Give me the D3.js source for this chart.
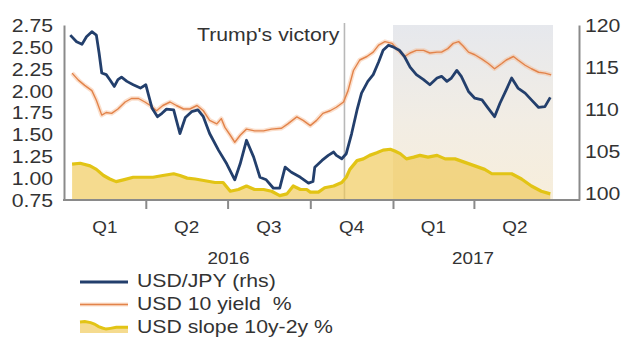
<!DOCTYPE html>
<html>
<head>
<meta charset="utf-8">
<script src="https://cdn.jsdelivr.net/npm/d3@7"></script>
<style>
  body { margin: 0; background: #fff; }
  svg { display: block; }
  text { font-family: "Liberation Sans", Arial, sans-serif; fill: #333; }
</style>
</head>
<body>
<svg id="chart" width="623" height="338"></svg>
<script>
// USD/JPY spot (right-hand scale)
const usdJpy = [
  ["2016-01-08",118.8],["2016-01-15",118.0],["2016-01-21",117.7],["2016-01-26",118.6],["2016-02-01",119.2],
  ["2016-02-06",118.8],["2016-02-09",116.7],["2016-02-12",114.3],["2016-02-17",114.1],["2016-02-21",113.5],
  ["2016-02-26",112.7],["2016-03-01",113.5],["2016-03-05",113.8],["2016-03-11",113.3],["2016-03-18",112.9],
  ["2016-03-26",112.5],["2016-04-01",112.9],["2016-04-04",111.7],["2016-04-08",110.1],["2016-04-14",109.1],
  ["2016-04-19",109.5],["2016-04-24",110.0],["2016-05-02",109.9],["2016-05-05",108.7],["2016-05-09",107.1],
  ["2016-05-15",109.0],["2016-05-22",109.7],["2016-05-29",109.9],["2016-06-04",109.1],["2016-06-11",107.1],
  ["2016-06-21",105.1],["2016-06-30",103.5],["2016-07-09",101.6],["2016-07-15",103.5],["2016-07-22",106.3],
  ["2016-07-30",104.3],["2016-08-06",101.9],["2016-08-13",101.6],["2016-08-21",100.6],["2016-08-28",100.6],
  ["2016-09-03",103.1],["2016-09-10",102.5],["2016-09-20",101.9],["2016-09-29",101.2],["2016-10-04",101.4],
  ["2016-10-06",103.1],["2016-10-14",103.9],["2016-10-21",104.5],["2016-10-27",104.9],["2016-10-30",104.5],
  ["2016-11-05",104.1],["2016-11-10",104.7],["2016-11-16",107.1],["2016-11-22",109.9],["2016-11-27",111.9],
  ["2016-12-04",113.3],["2016-12-10",114.1],["2016-12-16",115.6],["2016-12-21",117.0],["2016-12-27",117.6],
  ["2017-01-01",117.4],["2017-01-08",117.0],["2017-01-14",116.2],["2017-01-20",115.0],["2017-01-27",114.1],
  ["2017-02-04",113.5],["2017-02-11",112.9],["2017-02-19",113.7],["2017-02-24",113.9],["2017-03-02",113.3],
  ["2017-03-07",113.7],["2017-03-13",114.6],["2017-03-18",113.9],["2017-03-26",112.1],["2017-04-02",111.3],
  ["2017-04-10",111.1],["2017-04-17",110.1],["2017-04-24",109.1],["2017-04-30",110.7],["2017-05-07",112.3],
  ["2017-05-13",113.7],["2017-05-20",112.5],["2017-05-28",111.9],["2017-06-04",111.1],["2017-06-12",110.2],
  ["2017-06-19",110.3],["2017-06-25",111.4]
];

// US 10-year Treasury yield, %
const usd10y = [
  ["2016-01-10",2.20],["2016-01-17",2.12],["2016-01-24",2.06],["2016-02-01",2.00],["2016-02-06",1.89],
  ["2016-02-12",1.72],["2016-02-17",1.75],["2016-02-23",1.74],["2016-03-01",1.79],["2016-03-09",1.87],
  ["2016-03-16",1.91],["2016-03-24",1.91],["2016-03-31",1.87],["2016-04-06",1.83],["2016-04-13",1.77],
  ["2016-04-20",1.83],["2016-04-28",1.87],["2016-05-05",1.83],["2016-05-13",1.79],["2016-05-20",1.79],
  ["2016-05-28",1.83],["2016-06-04",1.77],["2016-06-11",1.66],["2016-06-19",1.62],["2016-06-24",1.68],
  ["2016-06-28",1.58],["2016-07-04",1.49],["2016-07-09",1.41],["2016-07-15",1.49],["2016-07-22",1.56],
  ["2016-07-31",1.54],["2016-08-10",1.54],["2016-08-19",1.56],["2016-08-30",1.57],["2016-09-06",1.62],
  ["2016-09-16",1.70],["2016-09-23",1.66],["2016-10-01",1.60],["2016-10-08",1.66],["2016-10-15",1.74],
  ["2016-10-23",1.77],["2016-10-30",1.81],["2016-11-07",1.87],["2016-11-12",2.00],["2016-11-18",2.23],
  ["2016-11-25",2.35],["2016-12-03",2.39],["2016-12-10",2.44],["2016-12-16",2.52],["2016-12-23",2.56],
  ["2016-12-31",2.54],["2017-01-07",2.46],["2017-01-14",2.39],["2017-01-20",2.43],["2017-01-27",2.46],
  ["2017-02-04",2.46],["2017-02-11",2.43],["2017-02-19",2.44],["2017-02-24",2.44],["2017-03-03",2.48],
  ["2017-03-09",2.54],["2017-03-15",2.56],["2017-03-20",2.51],["2017-03-26",2.44],["2017-04-02",2.41],
  ["2017-04-10",2.36],["2017-04-17",2.31],["2017-04-24",2.25],["2017-05-02",2.31],["2017-05-07",2.35],
  ["2017-05-15",2.39],["2017-05-20",2.35],["2017-05-28",2.29],["2017-06-04",2.25],["2017-06-12",2.21],
  ["2017-06-19",2.20],["2017-06-26",2.18]
];

// US curve slope, 10y minus 2y, %
const usdSlope = [
  ["2016-01-10",1.16],["2016-01-19",1.17],["2016-01-30",1.14],["2016-02-06",1.10],["2016-02-14",1.03],
  ["2016-02-21",0.99],["2016-02-28",0.96],["2016-03-07",0.98],["2016-03-18",1.01],["2016-03-29",1.01],
  ["2016-04-09",1.01],["2016-04-20",1.03],["2016-05-02",1.05],["2016-05-09",1.03],["2016-05-17",1.00],
  ["2016-05-26",0.99],["2016-06-06",0.97],["2016-06-17",0.95],["2016-06-26",0.95],["2016-07-04",0.85],
  ["2016-07-13",0.87],["2016-07-22",0.91],["2016-07-31",0.87],["2016-08-10",0.87],["2016-08-19",0.85],
  ["2016-08-28",0.80],["2016-09-05",0.82],["2016-09-12",0.91],["2016-09-20",0.87],["2016-09-27",0.87],
  ["2016-10-01",0.84],["2016-10-10",0.84],["2016-10-17",0.89],["2016-10-27",0.91],["2016-11-05",0.95],
  ["2016-11-10",1.01],["2016-11-14",1.10],["2016-11-22",1.20],["2016-11-29",1.22],["2016-12-06",1.26],
  ["2016-12-14",1.29],["2016-12-21",1.32],["2016-12-29",1.33],["2017-01-03",1.31],["2017-01-09",1.28],
  ["2017-01-16",1.22],["2017-01-24",1.24],["2017-01-31",1.26],["2017-02-09",1.24],["2017-02-19",1.26],
  ["2017-02-28",1.22],["2017-03-11",1.22],["2017-03-22",1.18],["2017-04-02",1.14],["2017-04-13",1.10],
  ["2017-04-21",1.05],["2017-05-02",1.05],["2017-05-13",1.05],["2017-05-24",0.99],["2017-06-04",0.91],
  ["2017-06-15",0.85],["2017-06-25",0.82]
];

const leftTicks = [0.75, 1.00, 1.25, 1.50, 1.75, 2.00, 2.25, 2.50, 2.75];
const rightTicks = [100, 105, 110, 115, 120];
const quarterLabels = ["Q1", "Q2", "Q3", "Q4", "Q1", "Q2"];
const quarterStarts = ["2016-01-01", "2016-04-01", "2016-07-01", "2016-10-01", "2017-01-01", "2017-04-01", "2017-07-01"];
const yearLabels = ["2016", "2017"];
const yearStarts = ["2016-01-01", "2017-01-01"];
const periodStart = "2016-01-01", periodEnd = "2017-06-28";
const highlightStart = "2017-01-01";
const eventDate = "2016-11-08", eventLabel = "Trump's victory";
const legendLabels = ["USD/JPY (rhs)", "USD 10 yield  %", "USD slope 10y-2y %"];

const parse = d3.timeParse("%Y-%m-%d");
const svg = d3.select("#chart");
const W = 623, H = 338;

const colors = { jpy: "#233f6c", yld: "#e2834a", yldHalo: "#f6b88f", slope: "#e2c415", slopeFill: "#f0c955", axis: "#8a8a8a" };
const STRETCH = 1.18;   // glyphs in this style are set slightly wide

// layout
const plotLeft = 64, rightAxisX = 579, plotTop = 25, plotBottom = 200;

const x = d3.scaleTime().domain([parse(periodStart), parse(periodEnd)]).range([plotLeft, 553]);
const yL = d3.scaleLinear().domain([0.75, 2.75]).range([plotBottom, plotTop]);
const yR = d3.scaleLinear().domain([99.2, 120]).range([plotBottom, plotTop]);

svg.append("rect").attr("width", W).attr("height", H).attr("fill", "#fff");

// highlighted 2017 period
const defs = svg.append("defs");
const grad = defs.append("linearGradient").attr("id", "shade").attr("x1", 0).attr("y1", 0).attr("x2", 0).attr("y2", 1);
grad.append("stop").attr("offset", "0%").attr("stop-color", "#e6e8ed");
grad.append("stop").attr("offset", "55%").attr("stop-color", "#f2ede4");
grad.append("stop").attr("offset", "100%").attr("stop-color", "#f7eedb");
svg.append("rect")
  .attr("x", x(parse(highlightStart)))
  .attr("y", plotTop)
  .attr("width", x(parse(periodEnd)) - x(parse(highlightStart)))
  .attr("height", plotBottom - plotTop)
  .attr("fill", "url(#shade)");

// event marker
const ex = x(parse(eventDate));
svg.append("line").attr("x1", ex).attr("x2", ex).attr("y1", plotTop - 2).attr("y2", plotBottom)
  .attr("stroke", "#b8b8b8").attr("stroke-width", 1.6);

function stretchedText(g, tx, ty, txt, anchor, size) {
  return g.append("text")
    .attr("transform", `translate(${tx},${ty}) scale(${STRETCH},1)`)
    .attr("text-anchor", anchor)
    .attr("font-size", size)
    .style("white-space", "pre")
    .text(txt);
}
stretchedText(svg, ex - 5, 40.5, eventLabel, "end", 18);

// slope area + line
const slopeData = usdSlope.map(d => ({ date: parse(d[0]), v: d[1] }));
svg.append("path").datum(slopeData)
  .attr("d", d3.area().x(d => x(d.date)).y0(yL(0.75)).y1(d => yL(d.v)))
  .attr("fill", colors.slopeFill).attr("fill-opacity", 0.66);
svg.append("path").datum(slopeData)
  .attr("d", d3.line().x(d => x(d.date)).y(d => yL(d.v)))
  .attr("fill", "none").attr("stroke", colors.slope).attr("stroke-width", 3.2)
  .attr("stroke-linejoin", "round");

// 10y yield
const yldData = usd10y.map(d => ({ date: parse(d[0]), v: d[1] }));
const yldLine = d3.line().x(d => x(d.date)).y(d => yL(d.v));
svg.append("path").datum(yldData).attr("d", yldLine)
  .attr("fill", "none").attr("stroke", colors.yldHalo).attr("stroke-opacity", 0.45).attr("stroke-width", 4.5)
  .attr("stroke-linejoin", "round");
svg.append("path").datum(yldData).attr("d", yldLine)
  .attr("fill", "none").attr("stroke", colors.yld).attr("stroke-width", 1.4).attr("stroke-linejoin", "round");

// USD/JPY
const jpyData = usdJpy.map(d => ({ date: parse(d[0]), v: d[1] }));
svg.append("path").datum(jpyData)
  .attr("d", d3.line().x(d => x(d.date)).y(d => yR(d.v)))
  .attr("fill", "none").attr("stroke", colors.jpy).attr("stroke-width", 2.8).attr("stroke-linejoin", "round");

// axes
function styleAxis(g, dx) {
  g.select(".domain").attr("stroke", colors.axis).attr("stroke-width", 2);
  g.selectAll(".tick text")
    .attr("x", null).attr("dy", "0.36em")
    .attr("fill", "#333")
    .attr("font-size", 18)
    .attr("font-family", "Liberation Sans, Arial, sans-serif")
    .attr("transform", `translate(${dx},0) scale(${STRETCH},1)`);
}
const gL = svg.append("g").attr("transform", `translate(${plotLeft},0)`)
  .call(d3.axisLeft(yL).tickValues(leftTicks).tickFormat(d3.format(".2f")).tickSize(0).tickSizeOuter(0));
styleAxis(gL, -11);
const gR = svg.append("g").attr("transform", `translate(${rightAxisX},0)`)
  .call(d3.axisRight(yR).tickValues(rightTicks).tickFormat(d3.format("d")).tickSize(0).tickSizeOuter(0));
styleAxis(gR, 6);

const gB = svg.append("g").attr("transform", `translate(0,${plotBottom})`)
  .call(d3.axisBottom(x).tickValues(quarterStarts.slice(1, 6).map(parse)).tickFormat(() => "").tickSize(9).tickSizeOuter(0));
gB.select(".domain").remove();
gB.selectAll(".tick line").attr("stroke", colors.axis).attr("stroke-width", 2);
svg.append("line").attr("x1", plotLeft - 1).attr("x2", rightAxisX + 1).attr("y1", plotBottom).attr("y2", plotBottom)
  .attr("stroke", colors.axis).attr("stroke-width", 2);

// quarter and year labels
quarterLabels.forEach((q, i) => {
  const cx = (x(parse(quarterStarts[i])) + x(parse(quarterStarts[i + 1]))) / 2;
  stretchedText(svg, cx, 233, q, "middle", 16);
});
yearLabels.forEach((yr, i) => {
  const a = x(parse(yearStarts[i]));
  const b = i + 1 < yearStarts.length ? x(parse(yearStarts[i + 1])) : x(parse(periodEnd));
  stretchedText(svg, (a + b) / 2, 264, yr, "middle", 16);
});

// legend
const legX0 = 80, legX1 = 128, legText = 137;
const rows = [280.5, 303.5, 326.5];
svg.append("line").attr("x1", legX0).attr("x2", legX1).attr("y1", rows[0] + 1.5).attr("y2", rows[0] + 1.5)
  .attr("stroke", colors.jpy).attr("stroke-width", 3);
svg.append("line").attr("x1", legX0).attr("x2", legX1).attr("y1", rows[1] + 1).attr("y2", rows[1] + 1)
  .attr("stroke", colors.yldHalo).attr("stroke-opacity", 0.45).attr("stroke-width", 4);
svg.append("line").attr("x1", legX0).attr("x2", legX1).attr("y1", rows[1] + 1).attr("y2", rows[1] + 1)
  .attr("stroke", colors.yld).attr("stroke-width", 1.5);
// slope key: a miniature of the first months of the slope series
const mini = slopeData.slice(0, 11);
const mx = d3.scaleTime().domain(d3.extent(mini, d => d.date)).range([legX0, legX1]);
const my = d3.scaleLinear().domain([0.85, 1.2]).range([rows[2] + 6.5, rows[2] - 6]);
svg.append("path").datum(mini)
  .attr("d", d3.area().x(d => mx(d.date)).y0(rows[2] + 6.5).y1(d => my(d.v)))
  .attr("fill", colors.slopeFill).attr("fill-opacity", 0.66);
svg.append("path").datum(mini)
  .attr("d", d3.line().x(d => mx(d.date)).y(d => my(d.v)))
  .attr("fill", "none").attr("stroke", colors.slope).attr("stroke-width", 3);
legendLabels.forEach((t, i) => stretchedText(svg, legText, rows[i] + 6.5, t, "start", 18));
</script>
</body>
</html>
